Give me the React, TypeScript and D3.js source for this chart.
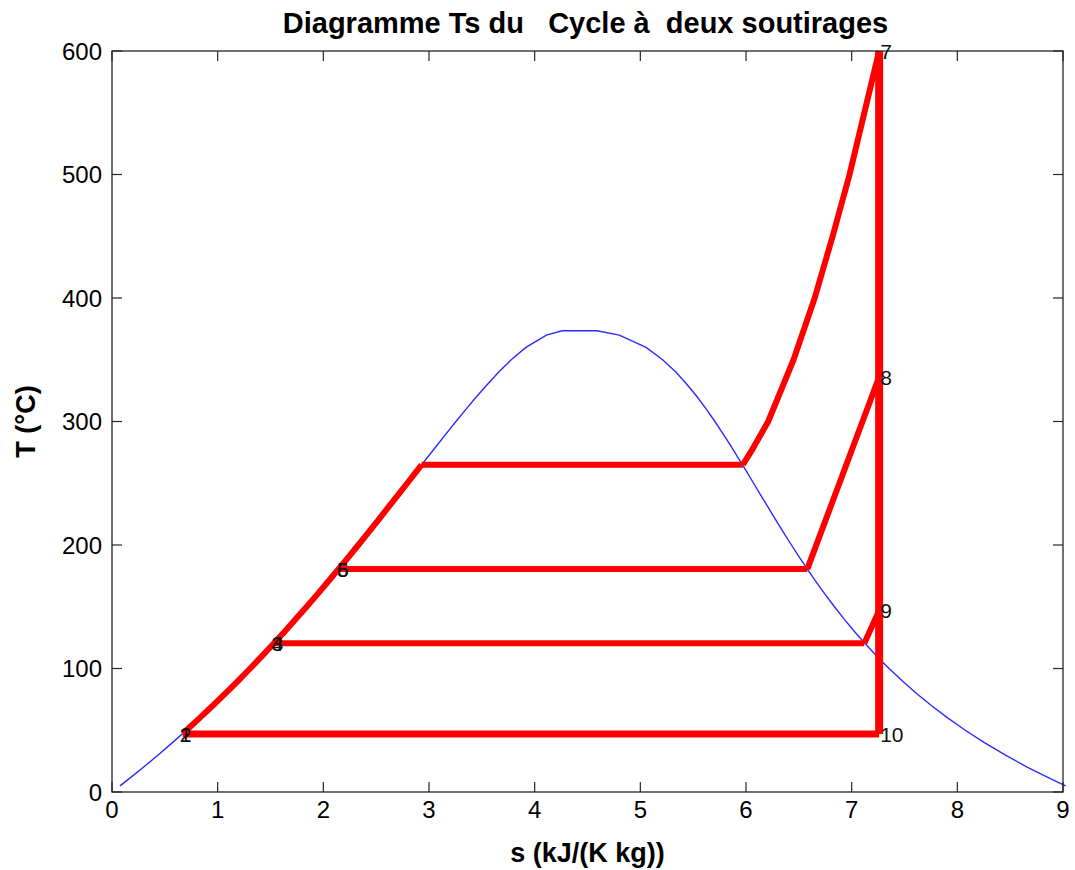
import React, { useRef, useEffect } from 'react';
import * as d3 from 'd3';

// saturation dome of water
const satT = [5, 10, 20, 30, 40, 50, 60, 70, 80, 90, 100, 110, 120, 130, 140, 150, 160, 170, 180, 190, 200, 210, 220, 230, 240, 250, 260, 270, 280, 290, 300, 310, 320, 330, 340, 350, 360, 370, 373.5];
const satSLiq = [0.076, 0.151, 0.297, 0.437, 0.572, 0.704, 0.831, 0.955, 1.076, 1.193, 1.307, 1.419, 1.528, 1.635, 1.739, 1.842, 1.943, 2.042, 2.139, 2.236, 2.331, 2.425, 2.518, 2.61, 2.702, 2.794, 2.885, 2.977, 3.069, 3.161, 3.255, 3.351, 3.449, 3.552, 3.66, 3.778, 3.917, 4.111, 4.26];
const satSVap = [9.025, 8.9, 8.665, 8.452, 8.256, 8.075, 7.908, 7.754, 7.611, 7.478, 7.354, 7.238, 7.129, 7.026, 6.929, 6.837, 6.749, 6.665, 6.584, 6.506, 6.43, 6.356, 6.284, 6.213, 6.142, 6.072, 6.002, 5.93, 5.858, 5.783, 5.706, 5.624, 5.537, 5.442, 5.336, 5.211, 5.054, 4.801, 4.59];

// cycle
const levelT = [47, 120.5, 180.5, 265];
const levelSLiq = [0.67, 1.53, 2.14, 2.93];
const levelSVap = [7.26, 7.12, 6.58, 5.97];

const superheatS = [5.97, 6.05, 6.21, 6.45, 6.65, 6.82, 6.98, 7.12, 7.26];
const superheatT = [265, 276, 300, 350, 400, 450, 500, 550, 600];

const bleed8S = [6.58, 7.26];
const bleed8T = [180.5, 336];
const bleed9S = [7.12, 7.26];
const bleed9T = [120.5, 147];

const expansionS = [7.26, 7.26, 7.26, 7.26];
const expansionT = [600, 336, 147, 47];

const pointLabels = ['1', '2', '3', '4', '5', '6', '7', '8', '9', '10'];
const labelS = [0.64, 0.64, 1.51, 1.51, 2.13, 2.13, 7.27, 7.27, 7.27, 7.27];
const labelT = [47, 47, 120.5, 120.5, 180.5, 180.5, 600, 336, 147, 47];

const xTicks = [0, 1, 2, 3, 4, 5, 6, 7, 8, 9];
const yTicks = [0, 100, 200, 300, 400, 500, 600];

export default function App() {
  const svgRef = useRef<SVGSVGElement>(null);

  useEffect(() => {
    const svg = d3.select(svgRef.current);
    svg.selectAll('*').remove();

    const width = 1075;
    const height = 870;
    const margin = { top: 51, right: 12, bottom: 78, left: 112 };
    const font = 'Arial, "Liberation Sans", Helvetica, sans-serif';

    svg.attr('width', width).attr('height', height);

    const x = d3.scaleLinear().domain([0, 9]).range([margin.left, width - margin.right]);
    const y = d3.scaleLinear().domain([0, 600]).range([height - margin.bottom, margin.top]);

    svg.append('rect').attr('width', width).attr('height', height).attr('fill', 'white');

    const line = d3.line<[number, number]>().x(d => x(d[0])).y(d => y(d[1]));

    // dome
    const dome: [number, number][] = [
      ...satT.map((t, i) => [satSLiq[i], t] as [number, number]),
      ...satT.map((t, i) => [satSVap[i], t] as [number, number]).reverse(),
    ];
    svg.append('path')
      .attr('d', line(dome))
      .attr('fill', 'none')
      .attr('stroke', '#2b2bff')
      .attr('stroke-width', 1.4);

    const red = '#ff0000';
    const drawRed = (pts: [number, number][], w = 6) => {
      svg.append('path')
        .attr('d', line(pts))
        .attr('fill', 'none')
        .attr('stroke', red)
        .attr('stroke-width', w)
        .attr('stroke-linejoin', 'round');
    };

    // liquid heating 1 -> saturated liquid at top level
    const liquid: [number, number][] = [[levelSLiq[0], levelT[0]]];
    satT.forEach((t, i) => {
      if (t > levelT[0] && t < levelT[3]) liquid.push([satSLiq[i], t]);
    });
    liquid.push([levelSLiq[3], levelT[3]]);
    drawRed(liquid);

    // horizontal levels
    levelT.forEach((t, i) => {
      drawRed([[levelSLiq[i], t], [levelSVap[i], t]], i === 0 ? 7 : 6);
    });

    drawRed(superheatS.map((s, i) => [s, superheatT[i]] as [number, number]));
    drawRed(bleed8S.map((s, i) => [s, bleed8T[i]] as [number, number]));
    drawRed(bleed9S.map((s, i) => [s, bleed9T[i]] as [number, number]));
    drawRed(expansionS.map((s, i) => [s, expansionT[i]] as [number, number]), 8);

    // axes box and ticks
    const axisColor = '#262626';
    const g = svg.append('g');
    g.append('rect')
      .attr('x', x(0)).attr('y', y(600))
      .attr('width', x(9) - x(0)).attr('height', y(0) - y(600))
      .attr('fill', 'none').attr('stroke', axisColor).attr('stroke-width', 1.3);

    const tl = 10;
    xTicks.forEach(v => {
      g.append('line').attr('x1', x(v)).attr('x2', x(v)).attr('y1', y(0)).attr('y2', y(0) - tl)
        .attr('stroke', axisColor).attr('stroke-width', 1.2);
      g.append('line').attr('x1', x(v)).attr('x2', x(v)).attr('y1', y(600)).attr('y2', y(600) + tl)
        .attr('stroke', axisColor).attr('stroke-width', 1.2);
      g.append('text')
        .attr('x', x(v)).attr('y', y(0) + 26)
        .attr('text-anchor', 'middle')
        .style('font-family', font).style('font-size', '24px')
        .text(v);
    });
    yTicks.forEach(v => {
      g.append('line').attr('x1', x(0)).attr('x2', x(0) + tl).attr('y1', y(v)).attr('y2', y(v))
        .attr('stroke', axisColor).attr('stroke-width', 1.2);
      g.append('line').attr('x1', x(9)).attr('x2', x(9) - tl).attr('y1', y(v)).attr('y2', y(v))
        .attr('stroke', axisColor).attr('stroke-width', 1.2);
      g.append('text')
        .attr('x', x(0) - 10).attr('y', y(v)).attr('dy', '0.36em')
        .attr('text-anchor', 'end')
        .style('font-family', font).style('font-size', '24px')
        .text(v);
    });

    // point labels
    pointLabels.forEach((lab, i) => {
      svg.append('text')
        .attr('x', x(labelS[i])).attr('y', y(labelT[i])).attr('dy', '0.36em')
        .style('font-family', font).style('font-size', '21px')
        .attr('fill', '#111')
        .text(lab);
    });

    // titles
    svg.append('text')
      .attr('x', (x(0) + x(9)) / 2 - 2).attr('y', 33)
      .attr('text-anchor', 'middle')
      .attr('xml:space', 'preserve')
      .style('white-space', 'pre')
      .style('font-family', font).style('font-size', '29px').style('font-weight', 'bold')
      .text('Diagramme Ts du   Cycle à  deux soutirages');

    svg.append('text')
      .attr('x', (x(0) + x(9)) / 2).attr('y', 862)
      .attr('text-anchor', 'middle')
      .style('font-family', font).style('font-size', '27px').style('font-weight', 'bold')
      .text('s (kJ/(K kg))');

    svg.append('text')
      .attr('transform', `translate(35, ${(y(0) + y(600)) / 2}) rotate(-90)`)
      .attr('text-anchor', 'middle')
      .style('font-family', font).style('font-size', '27px').style('font-weight', 'bold')
      .text('T (°C)');
  }, []);

  return <svg ref={svgRef} style={{ position: 'absolute', left: 0, top: 0, display: 'block' }}></svg>;
}
